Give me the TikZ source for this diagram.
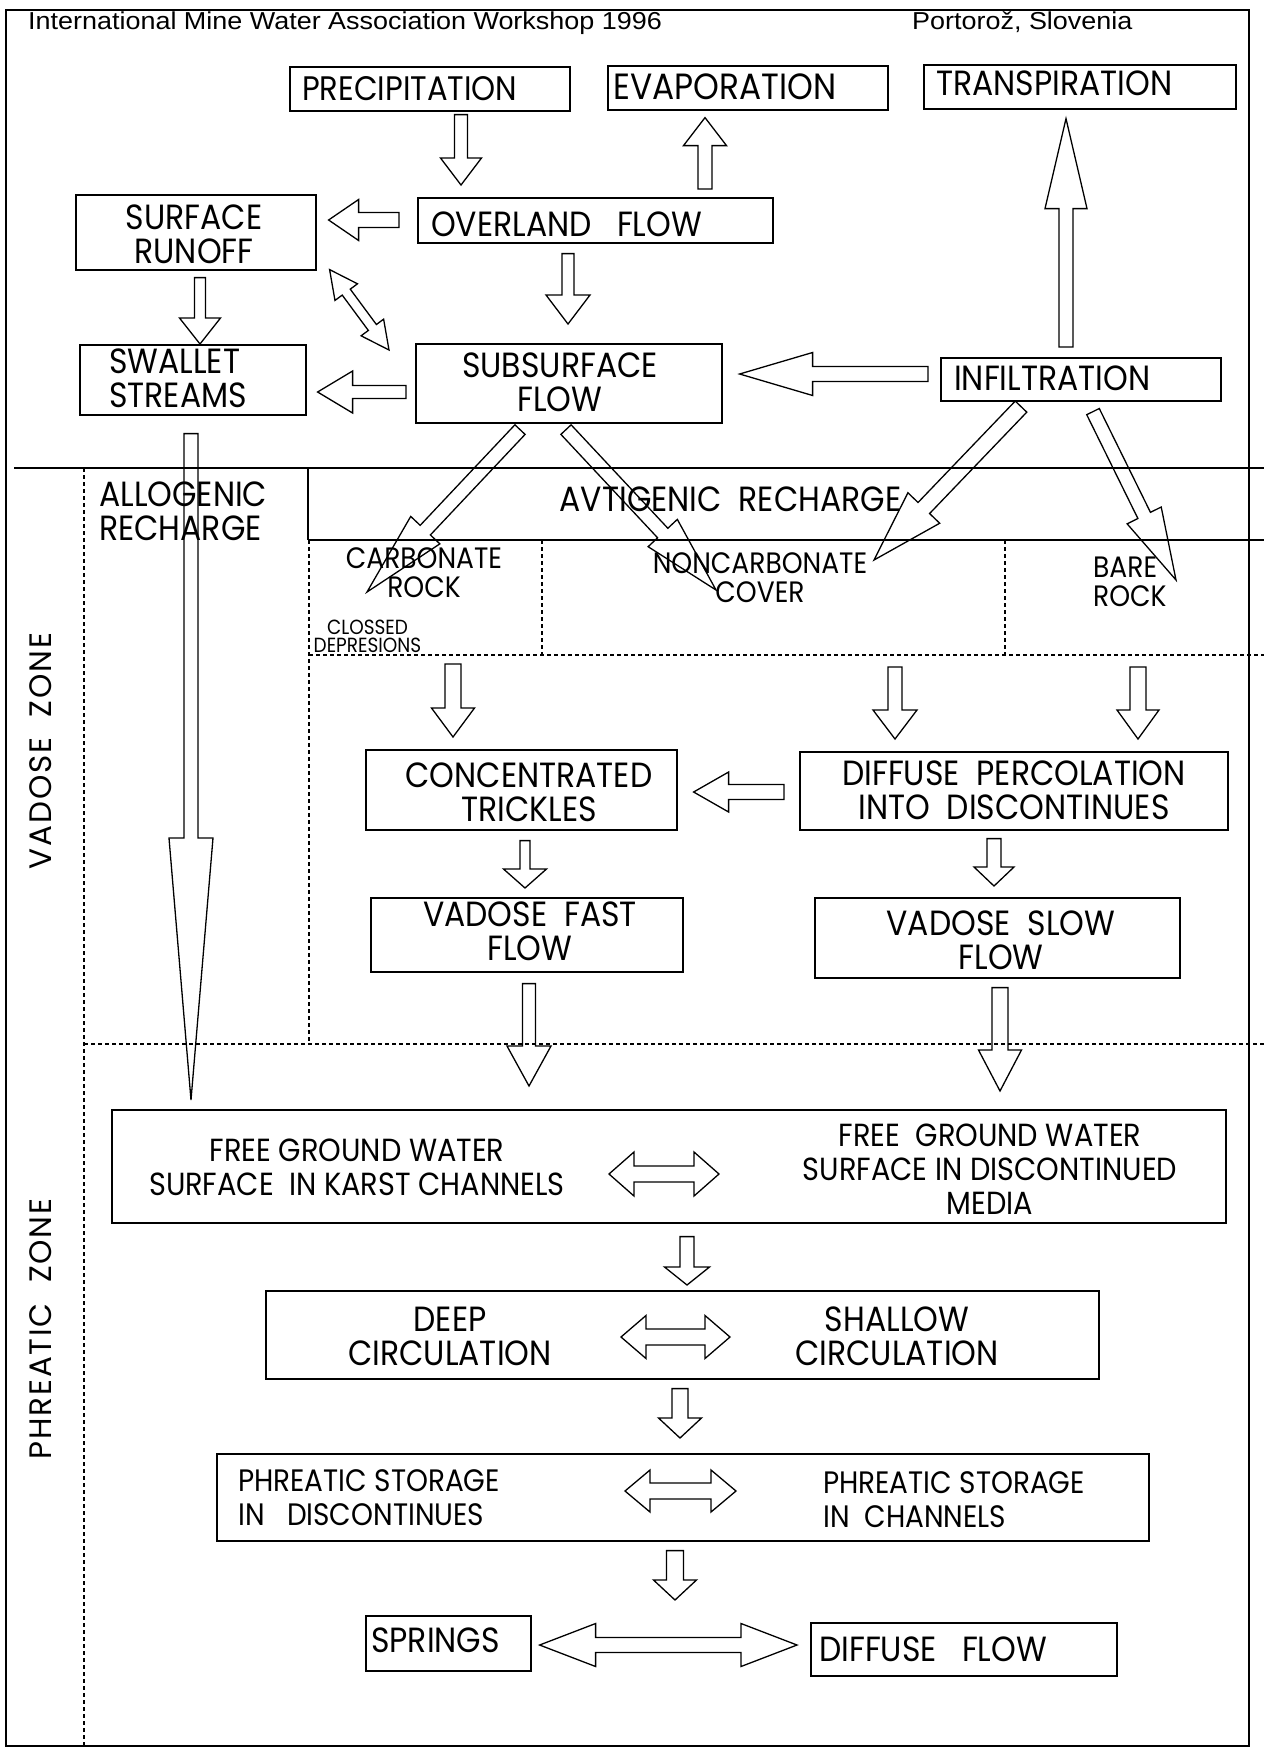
\documentclass[tikz,border=0pt]{standalone}
\usepackage{fontspec}
\usetikzlibrary{calc}
\newfontfamily\gfam{Poppins}[FakeStretch=0.9]
\newfontfamily\zfam{Poppins}[LetterSpace=6]
\newfontfamily\hdrfam{Liberation Sans}[FakeStretch=1.1]
\newcommand\bxf{\gfam\fontsize{35}{34}\selectfont}
\newcommand\mdf{\gfam\fontsize{32}{34}\selectfont}
\newcommand\phf{\gfam\fontsize{31}{34}\selectfont}
\newcommand\smf{\gfam\fontsize{29.5}{29}\selectfont}
\newcommand\tnf{\gfam\fontsize{20.5}{18}\selectfont}
\newcommand\znf{\zfam\fontsize{31}{31}\selectfont}
\newcommand\hdf{\hdrfam\fontsize{24.5}{26}\selectfont}
% box: name, x1, y1, x2, y2
\newcommand\bbox[5]{\node[box, minimum width={(#4-#2)*1pt}, minimum height={(#5-#3)*1pt}] (#1) at (#2,#3) {};}
% single block arrow: start, tip, half shaft, half head, head length
\newcommand\barrow[5]{%
  \coordinate (bH) at ($(#2)!#5pt!(#1)$);
  \draw[blk] ($(#1)!#3pt!90:(#2)$) -- ($(bH)!#3pt!90:(#2)$) -- ($(bH)!#4pt!90:(#2)$) -- (#2)
    -- ($(bH)!#4pt!-90:(#2)$) -- ($(bH)!#3pt!-90:(#2)$) -- ($(#1)!#3pt!-90:(#2)$) -- cycle;}
% double block arrow: tip1, tip2, half shaft, half head, head length
\newcommand\dbarrow[5]{%
  \coordinate (bHa) at ($(#1)!#5pt!(#2)$);
  \coordinate (bHb) at ($(#2)!#5pt!(#1)$);
  \draw[blk] (#1) -- ($(bHa)!#4pt!90:(#2)$) -- ($(bHa)!#3pt!90:(#2)$) -- ($(bHb)!#3pt!-90:(#1)$)
    -- ($(bHb)!#4pt!-90:(#1)$) -- (#2) -- ($(bHb)!#4pt!90:(#1)$) -- ($(bHb)!#3pt!90:(#1)$)
    -- ($(bHa)!#3pt!-90:(#2)$) -- ($(bHa)!#4pt!-90:(#2)$) -- cycle;}
\begin{document}
\begin{tikzpicture}[x=1pt,y=-1pt,
  box/.style={draw, line width=1.6pt, inner sep=0pt, anchor=north west},
  blk/.style={draw, line width=1.3pt, line join=miter},
  txt/.style={font=\bxf, inner sep=0pt, align=center},
  txtl/.style={font=\bxf, inner sep=0pt, align=left, anchor=west},
  sep/.style={line width=1.4pt},
  dsep/.style={line width=1.2pt, dash pattern=on 4pt off 3pt}]
\useasboundingbox (0,0) rectangle (1264,1748);
\fill[white] (0,0) rectangle (1264,1748);
% frame and zone lines
\draw[sep] (6,10) rectangle (1249,1746);
\draw[sep] (14,468) -- (1264,468);
\draw[dsep] (84,468) -- (84,1746);
\draw[sep] (308,468) -- (308,540);
\draw[dsep] (309,540) -- (309,1044);
\draw[sep] (308,540) -- (1264,540);
\draw[dsep] (542,540) -- (542,655);
\draw[dsep] (1005,540) -- (1005,655);
\draw[dsep] (309,655) -- (1264,655);
\draw[dsep] (84,1044) -- (1264,1044);
% header
\node[font=\hdf, anchor=base west, inner sep=0pt] (hdrL) at (28,29) {International Mine Water Association Workshop 1996};
\node[font=\hdf, anchor=base west, inner sep=0pt] (hdrR) at (912,29) {Portorož, Slovenia};
% boxes
\bbox{precipBox}{289}{66}{569}{110}
\bbox{evapBox}{607}{65}{887}{109}
\bbox{transpBox}{923}{64}{1235}{108}
\bbox{runoffBox}{75}{194}{315}{269}
\bbox{overBox}{417}{197}{772}{242}
\bbox{swalBox}{79}{344}{305}{414}
\bbox{subBox}{415}{343}{721}{422}
\bbox{infBox}{940}{357}{1220}{400}
\bbox{concBox}{365}{749}{676}{829}
\bbox{diffBox}{799}{751}{1227}{829}
\bbox{fastBox}{370}{897}{682}{971}
\bbox{slowBox}{814}{897}{1179}{977}
\bbox{fgwBox}{111}{1109}{1225}{1222}
\bbox{deepBox}{265}{1290}{1098}{1378}
\bbox{phrBox}{216}{1453}{1148}{1540}
\bbox{sprBox}{365}{1615}{530}{1670}
\bbox{dflBox}{810}{1622}{1116}{1675}
% texts
\node[txtl, font=\gfam\fontsize{34}{34}\selectfont] (precip) at (302,88.5) {PRECIPITATION};
\node[txtl, font=\gfam\fontsize{36.5}{34}\selectfont] (evap) at (613,86.5) {EVAPORATION};
\node[txtl] (transp) at (936,83.5) {TRANSPIRATION};
\node[txt] (runoff) at (194,234) {SURFACE\\RUNOFF};
\node[txtl] (over) at (431,224) {OVERLAND~~~FLOW};
\node[txtl] (swal) at (109,378) {SWALLET\\STREAMS};
\node[txt] (sub) at (560,382.5) {SUBSURFACE\\FLOW};
\node[txtl] (inf) at (954,378.5) {INFILTRATION};
\node[txtl] (allo) at (99,511.5) {ALLOGENIC\\RECHARGE};
\node[txt] (avti) at (730.5,499.5) {AVTIGENIC~~RECHARGE};
\node[txt, font=\smf] (carb) at (424,572.5) {CARBONATE\\ROCK};
\node[txt, font=\tnf] (clos) at (367.5,636.5) {CLOSSED\\DEPRESIONS};
\node[txt, font=\smf] (ncarb) at (760,577.5) {NONCARBONATE\\COVER};
\node[txtl, font=\smf] (bare) at (1093,582) {BARE\\ROCK};
\node[txt] (conc) at (529,792) {CONCENTRATED\\TRICKLES};
\node[txt] (diff) at (1014,790) {DIFFUSE~~PERCOLATION\\INTO~~DISCONTINUES};
\node[txt] (fast) at (530,931) {VADOSE~~FAST\\FLOW};
\node[txt] (slow) at (1001,940) {VADOSE~~SLOW\\FLOW};
\node[txt, font=\mdf] (fgwL) at (357,1167.5) {FREE GROUND WATER\\SURFACE~~IN KARST CHANNELS};
\node[txt, font=\mdf] (fgwR) at (990,1169) {FREE~~GROUND WATER\\SURFACE IN DISCONTINUED\\MEDIA};
\node[txt] (deep) at (450,1336.5) {DEEP\\CIRCULATION};
\node[txt] (shal) at (897,1336) {SHALLOW\\CIRCULATION};
\node[txtl, font=\phf] (phrL) at (238,1497.5) {PHREATIC STORAGE\\IN~~~DISCONTINUES};
\node[txtl, font=\phf] (phrR) at (823,1500) {PHREATIC STORAGE\\IN~~CHANNELS};
\node[txtl] (spr) at (371,1640) {SPRINGS};
\node[txtl] (dfl) at (819,1649.5) {DIFFUSE~~~FLOW};
\node[txt, font=\znf, rotate=90] (vz) at (41,751) {VADOSE~~ZONE};
\node[txt, font=\znf, rotate=90] (pz) at (41,1329) {PHREATIC~~ZONE};
% arrow end points
\coordinate (a1) at ($(precipBox.south -| 461,0)+(0,3)$);
\coordinate (b1) at ($(overBox.north -| 461,0)+(0,-12)$);
\coordinate (a2) at ($(overBox.north -| 705,0)+(0,-8)$);
\coordinate (b2) at ($(evapBox.south -| 705,0)+(0,7)$);
\coordinate (a3) at ($(overBox.west |- 0,220)+(-18,0)$);
\coordinate (b3) at ($(runoffBox.east |- 0,220)+(12,0)$);
\coordinate (a4) at ($(overBox.south -| 568,0)+(0,10)$);
\coordinate (b4) at ($(subBox.north -| 568,0)+(0,-19)$);
\coordinate (a5) at ($(runoffBox.south -| 200,0)+(0,7)$);
\coordinate (b5) at (swalBox.north -| 200,0);
\coordinate (a6) at ($(runoffBox.south east)+(13,-1)$);
\coordinate (b6) at ($(subBox.north west)+(-26,7)$);
\coordinate (a7) at ($(subBox.west |- 0,392)+(-9,0)$);
\coordinate (b7) at ($(swalBox.east |- 0,392)+(11,0)$);
\coordinate (a8) at ($(infBox.west |- 0,374)+(-12,0)$);
\coordinate (b8) at ($(subBox.east |- 0,374)+(17,0)$);
\coordinate (a9) at ($(infBox.north -| 1066,0)+(0,-10)$);
\coordinate (b9) at ($(transpBox.south -| 1066,0)+(0,9)$);
\coordinate (a10) at ($(subBox.south -| 520,0)+(0,6)$);
\coordinate (b10) at (367,592);
\coordinate (a11) at ($(subBox.south -| 566,0)+(0,6)$);
\coordinate (b11) at (716,590);
\coordinate (a12) at ($(infBox.south -| 1021,0)+(0,5)$);
\coordinate (b12) at (874,560);
\coordinate (a13) at ($(infBox.south -| 1093,0)+(0,10)$);
\coordinate (b13) at (1176,580);
\coordinate (a14) at ($(swalBox.south -| 191,0)+(0,18)$);
\coordinate (b14) at ($(fgwBox.north -| 191,0)+(0,-9)$);
\coordinate (a15) at (453,664);
\coordinate (b15) at ($(concBox.north -| 453,0)+(0,-12)$);
\coordinate (a16) at (895,667);
\coordinate (b16) at ($(diffBox.north -| 895,0)+(0,-12)$);
\coordinate (a17) at (1138,667);
\coordinate (b17) at ($(diffBox.north -| 1138,0)+(0,-12)$);
\coordinate (a18) at ($(diffBox.west |- 0,792)+(-15,0)$);
\coordinate (b18) at ($(concBox.east |- 0,792)+(16,0)$);
\coordinate (a19) at ($(concBox.south -| 525,0)+(0,10)$);
\coordinate (b19) at ($(fastBox.north -| 525,0)+(0,-9)$);
\coordinate (a20) at ($(diffBox.south -| 994,0)+(0,8)$);
\coordinate (b20) at ($(slowBox.north -| 994,0)+(0,-11)$);
\coordinate (a21) at ($(fastBox.south -| 529,0)+(0,11)$);
\coordinate (b21) at ($(fgwBox.north -| 529,0)+(0,-23)$);
\coordinate (a22) at ($(slowBox.south -| 1000,0)+(0,9)$);
\coordinate (b22) at ($(fgwBox.north -| 1000,0)+(0,-18)$);
\coordinate (a23) at (609,1174);
\coordinate (b23) at (719,1174);
\coordinate (a24) at ($(fgwBox.south -| 687,0)+(0,13)$);
\coordinate (b24) at ($(deepBox.north -| 687,0)+(0,-5)$);
\coordinate (a25) at (621,1337);
\coordinate (b25) at (730,1337);
\coordinate (a26) at ($(deepBox.south -| 680,0)+(0,9)$);
\coordinate (b26) at ($(phrBox.north -| 680,0)+(0,-15)$);
\coordinate (a27) at (625,1491);
\coordinate (b27) at (736,1491);
\coordinate (a28) at ($(phrBox.south -| 675,0)+(0,9)$);
\coordinate (b28) at ($(sprBox.north -| 675,0)+(0,-15)$);
\coordinate (a29) at ($(sprBox.east |- 0,1645)+(8,0)$);
\coordinate (b29) at ($(dflBox.west |- 0,1645)+(-13,0)$);
% arrows
\barrow{a1}{b1}{6.5}{20.5}{27}
\barrow{a2}{b2}{7}{21.5}{28}
\barrow{a3}{b3}{7.5}{20.5}{30}
\barrow{a4}{b4}{6}{22}{29}
\barrow{a5}{b5}{5.5}{20.5}{26}
\dbarrow{a6}{b6}{5}{14}{28}
\barrow{a7}{b7}{6.5}{21}{35}
\barrow{a8}{b8}{7.5}{21.5}{73}
\barrow{a9}{b9}{7}{21}{90}
\barrow{a10}{b10}{7}{20}{85}
\barrow{a11}{b11}{7}{20}{78}
\barrow{a12}{b12}{8}{22}{72}
\barrow{a13}{b13}{7}{19}{72}
\barrow{a14}{b14}{7}{22}{262}
\barrow{a15}{b15}{8}{21.5}{29}
\barrow{a16}{b16}{7}{22}{29}
\barrow{a17}{b17}{8}{21}{29}
\barrow{a18}{b18}{7.5}{20}{35}
\barrow{a19}{b19}{5}{21.5}{19}
\barrow{a20}{b20}{7}{20}{19}
\barrow{a21}{b21}{6.5}{22}{40}
\barrow{a22}{b22}{8}{21.5}{41}
\dbarrow{a23}{b23}{8}{22}{25}
\barrow{a24}{b24}{7}{22.5}{18}
\dbarrow{a25}{b25}{8}{21.5}{25}
\barrow{a26}{b26}{8}{21.5}{20}
\dbarrow{a27}{b27}{8}{21}{25}
\barrow{a28}{b28}{8.5}{21.5}{20}
\dbarrow{a29}{b29}{7.5}{21.5}{56}
\end{tikzpicture}
\end{document}
